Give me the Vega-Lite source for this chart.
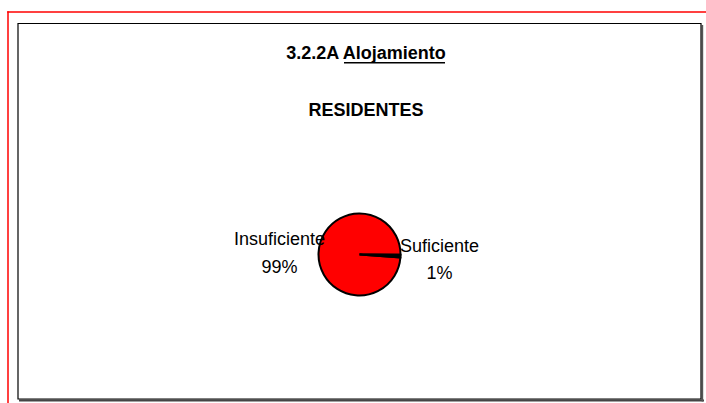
{
  "$schema": "https://vega.github.io/schema/vega-lite/v6.json",
  "width": 683,
  "height": 249,
  "padding": {"left": 18, "top": 130, "right": 5, "bottom": 24},
  "autosize": {"type": "none"},
  "background": "#ffffff",
  "config": {
    "view": {"stroke": null},
    "font": "Liberation Sans, Arial, sans-serif"
  },
  "title": {
    "text": "3.2.2A Alojamiento",
    "subtitle": "RESIDENTES",
    "anchor": "middle",
    "frame": "group",
    "orient": "top",
    "offset": -108.5,
    "dx": 6.5,
    "font": "Liberation Sans, Arial, sans-serif",
    "fontSize": 18,
    "fontWeight": "bold",
    "color": "#000000",
    "subtitleFont": "Liberation Sans, Arial, sans-serif",
    "subtitleFontSize": 18,
    "subtitleFontWeight": "bold",
    "subtitleColor": "#000000",
    "subtitlePadding": 38.7
  },
  "data": {
    "values": [
      {"categoria": "Insuficiente", "valor": 0.99},
      {"categoria": "Suficiente", "valor": 0.01}
    ]
  },
  "layer": [
    {
      "data": {"values": [{"marco": "exterior"}]},
      "mark": {"type": "rect", "x": -10.75, "x2": 720, "y": -118.75, "y2": -117.25, "fill": "#ff0000", "stroke": null},
      "encoding": {}
    },
    {
      "data": {"values": [{"marco": "exterior"}]},
      "mark": {"type": "rect", "x": -10.75, "x2": -9.25, "y": -118.75, "y2": 273, "fill": "#ff0000", "stroke": null},
      "encoding": {}
    },
    {
      "data": {"values": [{"marco": "sombra"}]},
      "mark": {"type": "rect", "x": 1, "x2": 686, "y": 269.5, "y2": 271.5, "fill": "#444444", "stroke": null},
      "encoding": {}
    },
    {
      "data": {"values": [{"marco": "sombra"}]},
      "mark": {"type": "rect", "x": 683.6, "x2": 685.2, "y": -105, "y2": 271.5, "fill": "#555555", "stroke": null},
      "encoding": {}
    },
    {
      "data": {"values": [{"marco": "interior"}]},
      "mark": {"type": "rect", "x": 0, "y": -106.5, "x2": 683, "y2": 269, "fill": null, "stroke": "#000000", "strokeWidth": 1.2},
      "encoding": {}
    },
    {
      "data": {"values": [{"marco": "subrayado"}]},
      "mark": {"type": "rect", "x": 326, "x2": 427, "y": -68, "y2": -66.5, "fill": "#000000", "stroke": null},
      "encoding": {}
    },
    {
      "mark": {"type": "arc", "outerRadius": 41, "stroke": "#000000", "strokeWidth": 2},
      "encoding": {
        "theta": {"field": "valor", "type": "quantitative", "stack": true, "scale": {"range": [1.642, 7.925]}},
        "order": {"field": "valor", "sort": "descending"},
        "color": {"field": "categoria", "type": "nominal", "scale": {"domain": ["Insuficiente", "Suficiente"], "range": ["#ff0000", "#000000"]}, "legend": null}
      }
    },
    {
      "mark": {"type": "text", "radius": 80, "dy": -6, "baseline": "alphabetic", "align": "center", "fontSize": 18, "color": "#000000"},
      "encoding": {
        "theta": {"field": "valor", "type": "quantitative", "stack": true},
        "order": {"field": "valor", "sort": "descending"},
        "text": {"field": "categoria", "type": "nominal"}
      }
    },
    {
      "mark": {"type": "text", "radius": 80, "dy": 21.5, "baseline": "alphabetic", "align": "center", "fontSize": 18, "color": "#000000"},
      "encoding": {
        "theta": {"field": "valor", "type": "quantitative", "stack": true},
        "order": {"field": "valor", "sort": "descending"},
        "text": {"field": "valor", "type": "quantitative", "format": ".0%"}
      }
    }
  ]
}
